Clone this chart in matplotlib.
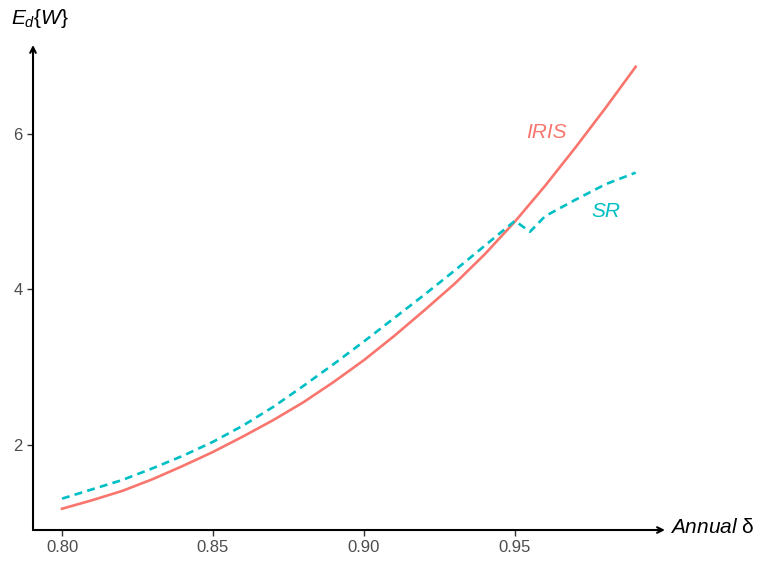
import matplotlib.pyplot as plt

# data
delta = [0.80, 0.81, 0.82, 0.83, 0.84, 0.85, 0.86, 0.87, 0.88, 0.89,
         0.90, 0.91, 0.92, 0.93, 0.94, 0.95, 0.96, 0.97, 0.98, 0.99]
iris = [1.18, 1.29, 1.41, 1.56, 1.73, 1.91, 2.11, 2.32, 2.55, 2.81,
        3.09, 3.40, 3.73, 4.07, 4.45, 4.87, 5.33, 5.82, 6.33, 6.86]

delta_sr = [0.80, 0.81, 0.82, 0.83, 0.84, 0.85, 0.86, 0.87, 0.88, 0.89,
            0.90, 0.91, 0.92, 0.93, 0.94, 0.95, 0.955, 0.96, 0.97, 0.98, 0.99]
sr = [1.31, 1.43, 1.55, 1.70, 1.86, 2.04, 2.25, 2.49, 2.76, 3.04,
      3.33, 3.63, 3.93, 4.24, 4.56, 4.88, 4.74, 4.94, 5.15, 5.35, 5.50]

xticks = [0.80, 0.85, 0.90, 0.95]
xtick_labels = ['0.80', '0.85', '0.90', '0.95']
yticks = [2, 4, 6]

red = '#F8766D'
cyan = '#00BFC4'

plt.rcParams['font.family'] = ['Liberation Sans', 'DejaVu Sans']
plt.rcParams['mathtext.fontset'] = 'custom'
plt.rcParams['mathtext.it'] = 'Liberation Sans:italic'
plt.rcParams['mathtext.rm'] = 'Liberation Sans'

fig = plt.figure(figsize=(7.66, 5.63), dpi=100)
ax = fig.add_axes([0.0431, 0.0586, 0.825, 0.8615])

ax.plot(delta, iris, color=red, lw=1.9)
ax.plot(delta_sr, sr, color=cyan, lw=1.9, linestyle=(0, (3, 2)))

ax.text(0.9606, 6.01, 'IRIS', color=red, fontsize=15, style='italic',
        ha='center', va='center')
ax.text(0.980, 5.00, 'SR', color=cyan, fontsize=15, style='italic',
        ha='center', va='center')

ax.set_xlim(0.7904, 0.9997)
ax.set_ylim(0.907, 7.14)
ax.set_xticks(xticks)
ax.set_xticklabels(xtick_labels)
ax.set_yticks(yticks)
ax.tick_params(labelsize=12, labelcolor='#4d4d4d', color='#333333',
               length=4, width=1)

for s in ax.spines.values():
    s.set_visible(False)

# axis arrows
ax.annotate('', xy=(1, 0), xytext=(0, 0), xycoords='axes fraction',
            arrowprops=dict(arrowstyle='->', lw=1.5, color='black',
                            shrinkA=0, shrinkB=0))
ax.annotate('', xy=(0, 1), xytext=(0, 0), xycoords='axes fraction',
            arrowprops=dict(arrowstyle='->', lw=1.5, color='black',
                            shrinkA=0, shrinkB=0))

fig.text(0.875, 0.063, r'$Annual$ δ', fontsize=15, ha='left', va='center')
fig.text(0.014, 0.968, r'$E_d\{W\}$', fontsize=15, ha='left', va='center')

fig.savefig('out.png', dpi=100)
